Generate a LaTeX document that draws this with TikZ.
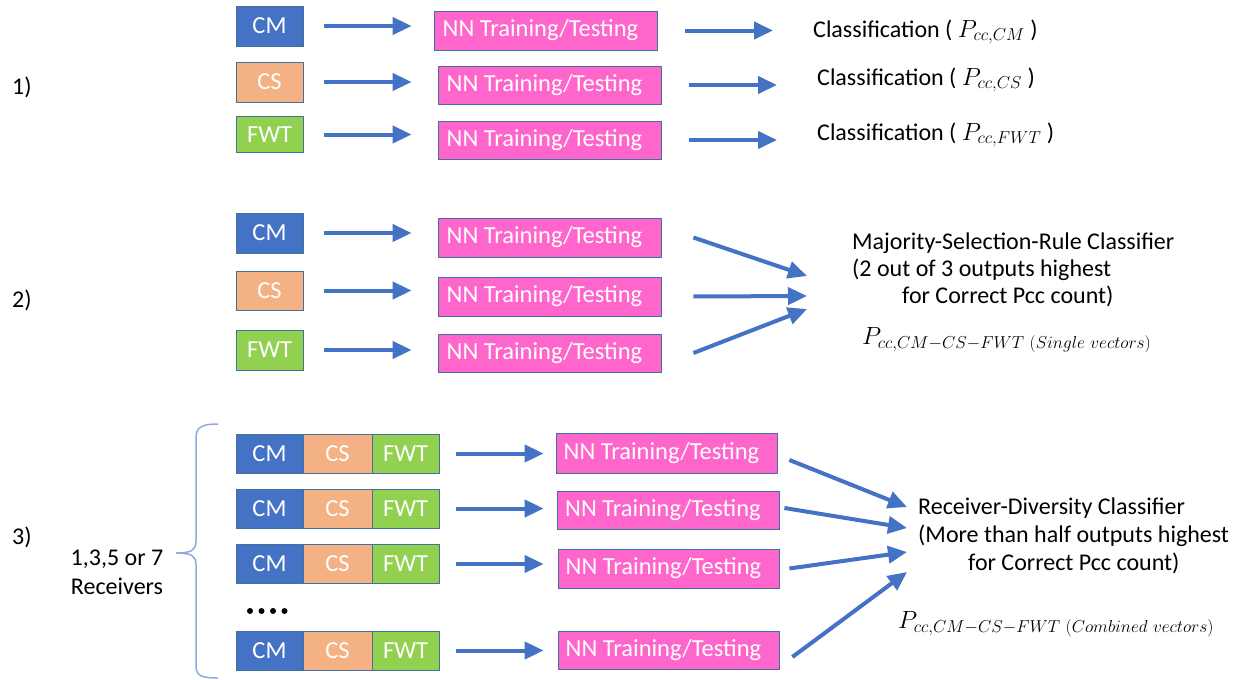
\documentclass[tikz,border=0pt]{standalone}
\usepackage{fontspec}
\setmainfont{Carlito}
\usetikzlibrary{arrows.meta,calc}
\definecolor{cmblue}{HTML}{4472C4}
\definecolor{csorange}{HTML}{F4B183}
\definecolor{fwtgreen}{HTML}{92D050}
\definecolor{nnpink}{HTML}{FF66CC}
\definecolor{edgeblue}{HTML}{41719C}
\definecolor{arrowblue}{HTML}{4472C4}
\definecolor{bracecol}{HTML}{8FAADC}
\newcommand{\nntext}{NN Training/Testing\hspace*{10pt}}
\begin{document}
\begin{tikzpicture}[x=1pt,y=-1pt,
 box/.style={draw=edgeblue, line width=0.8pt, text=white, font=\fontsize{24.5}{28}\selectfont, inner sep=0pt, minimum height=40pt},
 cmbox/.style={box, fill=cmblue, minimum width=67pt},
 csbox/.style={box, fill=csorange, minimum width=67pt},
 fwtbox/.style={box, fill=fwtgreen, minimum width=67pt},
 nnbox/.style={box, fill=nnpink, minimum width=223pt, minimum height=39pt},
 arr/.style={draw=arrowblue, line width=4pt, -{Triangle[length=19pt,width=17pt]}},
 lbl/.style={font=\fontsize{24}{28}\selectfont, inner sep=0pt, anchor=west},
 mathlbl/.style={font=\fontsize{24}{28}\selectfont, inner sep=0pt, anchor=west},
]
\useasboundingbox (0,0) rectangle (1245,680);
\fill[white] (0,0) rectangle (1245,680);

% section labels
\node[lbl] (l1) at (12,87) {1)};
\node[lbl] (l2) at (12,300) {2)};
\node[lbl] (l3) at (12,537) {3)};

% ---------- Section 1 ----------
\node[cmbox] (cm1) at (269.5,26) {CM};
\node[csbox] (cs1) at (269.5,82) {CS};
\node[fwtbox, minimum height=36pt] (fwt1) at (269.5,134.5) {FWT};
\node[nnbox] (nn1) at (545.5,30.5) {\nntext};
\node[nnbox, minimum height=38pt] (nn2) at (549.5,85) {\nntext};
\node[nnbox, minimum height=38pt] (nn3) at (549.5,140) {\nntext};
\node[lbl] (cls1) at (813,32) {Classification ( $P_{cc,CM}$ )};
\node[lbl] (cls2) at (817,80) {Classification ( $P_{cc,CS}$ )};
\node[lbl] (cls3) at (817,135) {Classification ( $P_{cc,FWT}$ )};

\draw[arr] ([xshift=21pt]cm1.east) -- ([xshift=-22pt]cm1.east -| nn1.west);
\draw[arr] ([xshift=21pt]cs1.east) -- ([xshift=-26pt]cs1.east -| nn2.west);
\draw[arr] ([xshift=21pt]fwt1.east) -- ([xshift=-26pt]fwt1.east -| nn3.west);
\draw[arr] ([xshift=28pt]nn1.east) -- ([xshift=-40pt]nn1.east -| cls1.west);
\draw[arr] ([xshift=28pt]nn2.east) -- ([xshift=-40pt]nn2.east -| cls2.west);
\draw[arr] ([xshift=28pt]nn3.east) -- ([xshift=-40pt]nn3.east -| cls3.west);

% ---------- Section 2 ----------
\node[cmbox] (cm2) at (269.5,233) {CM};
\node[csbox, minimum height=39pt] (cs2) at (269.5,290.5) {CS};
\node[fwtbox] (fwt2) at (269.5,350) {FWT};
\node[nnbox] (nn4) at (549.5,237.5) {\nntext};
\node[nnbox] (nn5) at (549.5,296.5) {\nntext};
\node[nnbox, minimum height=38pt] (nn6) at (549.5,353) {\nntext};

\draw[arr] ([xshift=21pt]cm2.east) -- ([xshift=-26pt]cm2.east -| nn4.west);
\draw[arr] ([xshift=21pt]cs2.east) -- ([xshift=-26pt]cs2.east -| nn5.west);
\draw[arr] ([xshift=21pt]fwt2.east) -- ([xshift=-26pt]fwt2.east -| nn6.west);

\node[lbl, align=left, font=\fontsize{24}{27}\selectfont] (msr) at (852,270)
 {Majority-Selection-Rule Classifier\\(2 out of 3 outputs highest\\\hspace*{50pt}for Correct Pcc count)};
\node[mathlbl] (m2) at (862,340) {$P_{cc,CM-CS-FWT\ (Single\ vectors)}$};
\coordinate (t1) at (807,276);
\coordinate (t2) at (807,296);
\coordinate (t3) at (807,309);
\draw[arr] ([xshift=32pt]nn4.east) -- (t1);
\draw[arr] ([xshift=32pt]nn5.east) -- (t2);
\draw[arr] ([xshift=32pt]nn6.east) -- (t3);

% ---------- Section 3 ----------
\foreach \i/\y in {1/453.5,2/508.5,3/564,4/650.5}{
  \node[cmbox, minimum height=39pt] (cmr\i) at (269.5,\y) {CM};
  \node[csbox, minimum height=39pt, minimum width=69pt] (csr\i) at (337.5,\y) {CS};
  \node[fwtbox, minimum height=39pt] (fwtr\i) at (405.5,\y) {FWT};
}
\node[nnbox, minimum width=221pt, minimum height=40pt] (nnr1) at (666.5,453) {\nntext};
\node[nnbox, minimum width=222pt, minimum height=38pt] (nnr2) at (668,510) {\nntext};
\node[nnbox, minimum width=221pt, minimum height=39pt] (nnr3) at (668.5,568.5) {\nntext};
\node[nnbox, minimum width=221pt, minimum height=38pt] (nnr4) at (668.5,650) {\nntext};

\draw[arr] ([xshift=17pt]fwtr1.east) -- ([xshift=-12pt]fwtr1.east -| nnr1.west);
\draw[arr] ([xshift=17pt]fwtr2.east) -- ([xshift=-13pt]fwtr2.east -| nnr2.west);
\draw[arr] ([xshift=17pt]fwtr3.east) -- ([xshift=-14pt]fwtr3.east -| nnr3.west);
\draw[arr] ([xshift=17pt]fwtr4.east) -- ([xshift=-14pt]fwtr4.east -| nnr4.west);

\fill (250,611) circle (3);
\fill (261.5,611) circle (3);
\fill (273,611) circle (3);
\fill (284.5,611) circle (3);

\draw[bracecol, line width=1.5pt]
  (218,424) .. controls (202,424) and (196,427) .. (196,438)
  -- (196,541) .. controls (196,550) and (192,553) .. (176,553)
  .. controls (192,553) and (196,556) .. (196,565)
  -- (196,666) .. controls (196,676) and (202,678) .. (218,678);
\node[font=\fontsize{24}{29}\selectfont, align=center, inner sep=0pt] (rcv) at (117,572) {1,3,5 or 7\\Receivers};

\node[lbl, align=left, font=\fontsize{24}{28}\selectfont] (rdc) at (918,536)
 {Receiver-Diversity Classifier\\(More than half outputs highest\\\hspace*{50pt}for Correct Pcc count)};
\node[mathlbl] (m3) at (898,624) {$P_{cc,CM-CS-FWT\ (Combined\ vectors)}$};
\coordinate (u1) at (907,507);
\coordinate (u2) at (907,528);
\coordinate (u3) at (907,552);
\coordinate (u4) at (907,572);
\draw[arr] ([shift={(12pt,-7pt)}]nnr1.east) -- (u1);
\draw[arr] ([shift={(5pt,2pt)}]nnr2.east) -- (u2);
\draw[arr] ([shift={(10pt,0pt)}]nnr3.east) -- (u3);
\draw[arr] ([shift={(13pt,-7pt)}]nnr4.east) -- (u4);
\end{tikzpicture}
\end{document}
